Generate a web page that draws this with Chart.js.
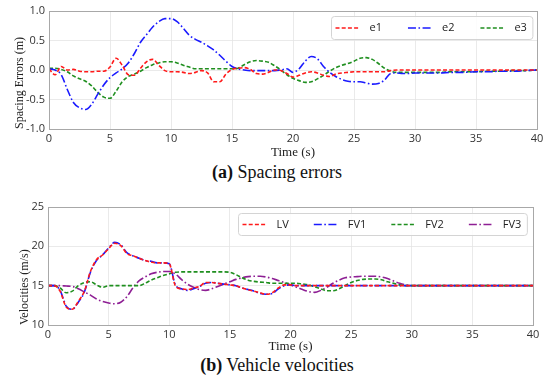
<!DOCTYPE html>
<html>
<head>
<meta charset="utf-8">
<script src="https://cdn.jsdelivr.net/npm/chart.js@4/dist/chart.umd.min.js"></script>
<style>
  html, body { margin: 0; padding: 0; background: #ffffff; }
  body { width: 550px; height: 382px; position: relative; overflow: hidden; }
  canvas { position: absolute; left: 0; }
  .cap { position: absolute; left: 4px; width: 546px; text-align: center;
         font-family: "Liberation Serif", "Times New Roman", serif; font-size: 18px;
         line-height: 20px; color: #111; }
</style>
</head>
<body>
<canvas id="c1" width="550" height="162" style="top:0px"></canvas>
<div class="cap" style="top:162px"><b>(a)</b> Spacing errors</div>
<canvas id="c2" width="550" height="162" style="top:192px"></canvas>
<div class="cap" style="top:355px"><b>(b)</b> Vehicle velocities</div>
<script>
// ---------- data ----------
const time = [0,0.5,1,1.5,2,2.5,3,3.5,4,4.5,5,5.5,6,6.5,7,7.5,8,8.5,9,9.5,10,10.5,11,11.5,12,12.5,13,13.5,14,14.5,15,15.5,16,16.5,17,17.5,18,18.5,19,19.5,20,20.5,21,21.5,22,22.5,23,23.5,24,24.5,25,25.5,26,26.5,27,27.5,28,28.5,29,29.5,30,31,32,33,34,35,36,37,38,39,40];

const xTicks = [0,5,10,15,20,25,30,35,40];
const errTicks = [-1.0,-0.5,0.0,0.5,1.0];
const velTicks = [10,15,20,25];

const errLabels = ['e1','e2','e3'];
const e1 = [0.02,-0.08,0.06,0.0,0.01,-0.02,-0.03,-0.03,-0.02,-0.02,0.05,0.2,0.08,-0.08,-0.09,0.03,0.14,0.18,0.08,-0.01,-0.03,-0.03,-0.04,-0.06,-0.04,-0.01,-0.05,-0.2,-0.2,-0.07,0.01,0.03,0.04,0.01,-0.06,-0.07,-0.04,0.0,-0.01,-0.06,-0.12,-0.09,-0.05,-0.03,-0.05,-0.09,-0.11,-0.07,-0.05,-0.04,-0.03,-0.03,-0.03,-0.03,-0.03,-0.03,-0.01,0.0,0.0,0.0,0.0,0.0,0.0,0.0,0.0,0.0,0.0,0.0,0.0,0.0,0.0];
const e2 = [0.02,0.0,-0.08,-0.33,-0.55,-0.64,-0.67,-0.58,-0.41,-0.25,-0.13,-0.05,0.02,0.12,0.28,0.47,0.6,0.73,0.82,0.87,0.87,0.82,0.71,0.59,0.52,0.47,0.41,0.34,0.25,0.15,0.06,0.02,0.0,-0.01,-0.01,-0.01,-0.01,-0.01,0.0,0.02,-0.04,0.02,0.15,0.23,0.19,0.06,-0.04,-0.11,-0.16,-0.19,-0.2,-0.2,-0.22,-0.24,-0.23,-0.17,-0.06,-0.05,-0.06,-0.06,-0.05,-0.05,-0.05,-0.04,-0.04,-0.03,-0.03,-0.02,-0.02,-0.01,0.0];
const e3 = [0.03,0.03,0.01,-0.03,-0.1,-0.15,-0.19,-0.27,-0.38,-0.46,-0.48,-0.36,-0.2,-0.11,-0.07,-0.02,0.04,0.09,0.12,0.14,0.14,0.12,0.08,0.05,0.02,0.02,0.02,0.02,0.02,0.02,0.02,0.03,0.09,0.14,0.16,0.15,0.13,0.07,0.0,-0.08,-0.14,-0.18,-0.21,-0.2,-0.15,-0.09,-0.02,0.04,0.08,0.11,0.15,0.2,0.21,0.18,0.11,0.03,-0.02,-0.04,-0.04,-0.04,-0.04,-0.04,-0.04,-0.03,-0.03,-0.03,-0.02,-0.02,-0.01,-0.01,0.0];

const velLabels = ['LV','FV1','FV2','FV3'];
const lv  = [15.0,15.0,14.3,12.3,12.0,13.0,14.3,16.8,18.3,18.9,19.7,20.4,20.1,19.1,18.8,18.5,18.2,18.0,17.9,17.9,17.8,15.0,14.6,14.5,14.7,14.9,15.4,15.4,15.3,15.2,15.1,15.0,14.7,14.5,14.3,14.1,13.9,14.1,14.7,15.1,15.1,15.0,15.0,15.0,15.0,15.0,15.0,15.0,15.0,15.0,15.0,15.0,15.0,15.0,15.0,15.0,15.0,15.0,15.0,15.0,15.0,15.0,15.0,15.0,15.0,15.0,15.0,15.0,15.0,15.0,15.0];
const fv1 = [15.0,15.0,14.4,12.4,12.0,12.9,14.2,16.7,18.2,18.9,19.8,20.5,20.2,19.2,18.8,18.5,18.2,18.1,17.9,17.9,17.8,15.1,14.6,14.4,14.6,14.9,15.3,15.4,15.3,15.2,15.1,15.0,14.7,14.5,14.3,14.0,13.9,14.0,14.6,15.0,15.1,15.0,15.0,15.0,15.0,15.0,15.0,15.0,15.0,15.0,15.0,15.0,15.0,15.0,15.0,15.0,15.0,15.0,15.0,15.0,15.0,15.0,15.0,15.0,15.0,15.0,15.0,15.0,15.0,15.0,15.0];
const fv2 = [15.0,15.0,14.7,14.1,14.3,15.0,15.4,15.5,15.1,14.8,15.0,15.0,15.0,15.0,15.0,15.0,15.3,15.7,16.0,16.3,16.5,16.7,16.75,16.75,16.75,16.75,16.75,16.75,16.75,16.75,16.7,16.4,16.0,15.7,15.55,15.45,15.4,15.3,15.3,15.3,15.3,15.3,15.2,15.1,14.85,14.6,14.35,14.35,14.6,15.0,15.4,15.65,15.8,15.85,15.85,15.75,15.5,15.3,15.1,15.0,15.0,15.0,15.0,15.0,15.0,15.0,15.0,15.0,15.0,15.0,15.0];
const fv3 = [15.0,15.0,15.0,14.95,14.9,14.6,14.2,13.8,13.3,13.0,12.8,12.7,12.9,13.6,14.7,15.6,16.1,16.5,16.7,16.8,16.8,16.5,15.8,15.2,14.8,14.5,14.4,14.6,14.9,15.2,15.5,15.8,16.0,16.15,16.2,16.2,16.1,15.9,15.65,15.4,15.1,14.8,14.5,14.25,14.15,14.4,14.8,15.3,15.7,16.0,16.1,16.15,16.2,16.2,16.2,16.1,15.9,15.6,15.3,15.1,15.0,15.0,15.0,15.0,15.0,15.0,15.0,15.0,15.0,15.0,15.0];

// ---------- styles ----------
const DASH = [4, 2.2];
const DASHDOT = [8, 2.5, 1.6, 2.5];
const TICK_FONT = { family: '"Open Sans", "DejaVu Sans", sans-serif', size: 11 };
const SERIF = '"Liberation Serif", "Times New Roman", serif';

function series(label, values, color, dash) {
  return {
    label, data: values, borderColor: color, backgroundColor: color,
    borderDash: dash, borderWidth: 1.6, pointRadius: 0, fill: false,
    cubicInterpolationMode: 'monotone'
  };
}

const framePlugin = {
  id: 'frame',
  afterDatasetsDraw(chart) {
    const { ctx, chartArea: a } = chart;
    ctx.save();
    ctx.strokeStyle = '#a8a8a8';
    ctx.lineWidth = 1;
    ctx.setLineDash([]);
    ctx.strokeRect(Math.round(a.left) + 0.5, Math.round(a.top) + 0.5,
                   Math.round(a.right - a.left), Math.round(a.bottom - a.top));
    ctx.restore();
  }
};

const boxLegend = {
  id: 'boxLegend',
  afterDatasetsDraw(chart, args, o) {
    const { ctx, chartArea: a } = chart;
    ctx.save();
    ctx.font = '11px "Open Sans", "DejaVu Sans", sans-serif';
    const sample = 24, gapST = 10;
    const items = chart.data.datasets.map(d => ({
      label: d.label, w: ctx.measureText(d.label).width,
      color: d.borderColor, dash: d.borderDash, lw: d.borderWidth
    }));
    const total = o.padL + o.padR + items.reduce((s, it) => s + sample + gapST + it.w, 0) + o.gap * (items.length - 1);
    const x0 = Math.round(a.right - o.marginR - total) + 0.5;
    const y0 = Math.round(a.top + o.marginT) + 0.5;
    const h = o.h;
    ctx.beginPath();
    ctx.roundRect(x0, y0, total, h, 3);
    ctx.fillStyle = 'rgba(255,255,255,0.85)';
    ctx.fill();
    ctx.strokeStyle = '#d4d4d4';
    ctx.lineWidth = 1;
    ctx.stroke();
    let x = x0 + o.padL;
    const yc = y0 + h / 2;
    for (const it of items) {
      ctx.beginPath();
      ctx.setLineDash(it.dash);
      ctx.strokeStyle = it.color;
      ctx.lineWidth = it.lw;
      ctx.moveTo(x, yc);
      ctx.lineTo(x + sample, yc);
      ctx.stroke();
      ctx.setLineDash([]);
      x += sample + gapST;
      ctx.fillStyle = '#222';
      ctx.textBaseline = 'middle';
      ctx.textAlign = 'left';
      ctx.fillText(it.label, x, yc);
      x += it.w + o.gap;
    }
    ctx.restore();
  }
};

function makeOptions(cfg) {
  return {
    responsive: false,
    animation: false,
    devicePixelRatio: 1,
    layout: { padding: cfg.padding },
    plugins: {
      legend: { display: false },
      tooltip: { enabled: false },
      boxLegend: cfg.legend
    },
    scales: {
      x: {
        type: 'linear', min: 0, max: 40,
        afterBuildTicks: s => { s.ticks = xTicks.map(v => ({ value: v })); },
        ticks: { font: TICK_FONT, color: '#333', padding: 3, maxRotation: 0 },
        grid: { color: '#e4e4e4', lineWidth: 0.8, drawTicks: false },
        border: { display: false },
        title: { display: true, text: 'Time (s)', color: '#222',
                 font: { family: SERIF, size: 13 }, padding: { top: 0, bottom: cfg.xTitlePad } },
        afterFit: s => { s.height = cfg.xHeight; }
      },
      y: {
        type: 'linear', min: cfg.yMin, max: cfg.yMax,
        afterBuildTicks: s => { s.ticks = cfg.yTicks.map(v => ({ value: v })); },
        ticks: { font: TICK_FONT, color: '#333', padding: 4, callback: cfg.yFmt },
        grid: { color: '#e4e4e4', lineWidth: 0.8, drawTicks: false },
        border: { display: false },
        title: { display: true, text: cfg.yTitle, color: '#222', align: 'start',
                 font: { family: SERIF, size: 12 }, padding: { top: cfg.yTitlePad, bottom: 0 } },
        afterFit: s => { s.width = cfg.yWidth; }
      }
    }
  };
}

new Chart(document.getElementById('c1'), {
  type: 'line',
  data: {
    labels: time,
    datasets: [
      series(errLabels[0], e1.map((v, i) => ({ x: time[i], y: v })), '#ff1a1a', DASH),
      series(errLabels[1], e2.map((v, i) => ({ x: time[i], y: v })), '#1a1aff', DASHDOT),
      series(errLabels[2], e3.map((v, i) => ({ x: time[i], y: v })), '#1f8f1f', DASH)
    ]
  },
  options: makeOptions({
    padding: { top: 11, right: 13, left: 0, bottom: 0 },
    xHeight: 33, xTitlePad: 2, yWidth: 49, yTitlePad: 13,
    yMin: -1, yMax: 1, yTicks: errTicks, yFmt: v => Number(v).toFixed(1),
    yTitle: 'Spacing Errors (m)',
    legend: { padL: 4, padR: 6, gap: 26, marginR: 5, marginT: 5, h: 23 }
  }),
  plugins: [framePlugin, boxLegend]
});

new Chart(document.getElementById('c2'), {
  type: 'line',
  data: {
    labels: time,
    datasets: [
      series(velLabels[0], lv.map((v, i) => ({ x: time[i], y: v })), '#ff1a1a', DASH),
      series(velLabels[1], fv1.map((v, i) => ({ x: time[i], y: v })), '#1a1aff', DASHDOT),
      series(velLabels[2], fv2.map((v, i) => ({ x: time[i], y: v })), '#1f8f1f', DASH),
      series(velLabels[3], fv3.map((v, i) => ({ x: time[i], y: v })), '#8e1f94', DASHDOT)
    ]
  },
  options: makeOptions({
    padding: { top: 15, right: 17, left: 0, bottom: 0 },
    xHeight: 29, xTitlePad: 0, yWidth: 48, yTitlePad: 18,
    yMin: 10, yMax: 25, yTicks: velTicks, yFmt: v => String(v),
    yTitle: 'Velocities (m/s)',
    legend: { padL: 4, padR: 6, gap: 25, marginR: 6, marginT: 6, h: 22 }
  }),
  plugins: [framePlugin, boxLegend]
});
</script>
</body>
</html>
